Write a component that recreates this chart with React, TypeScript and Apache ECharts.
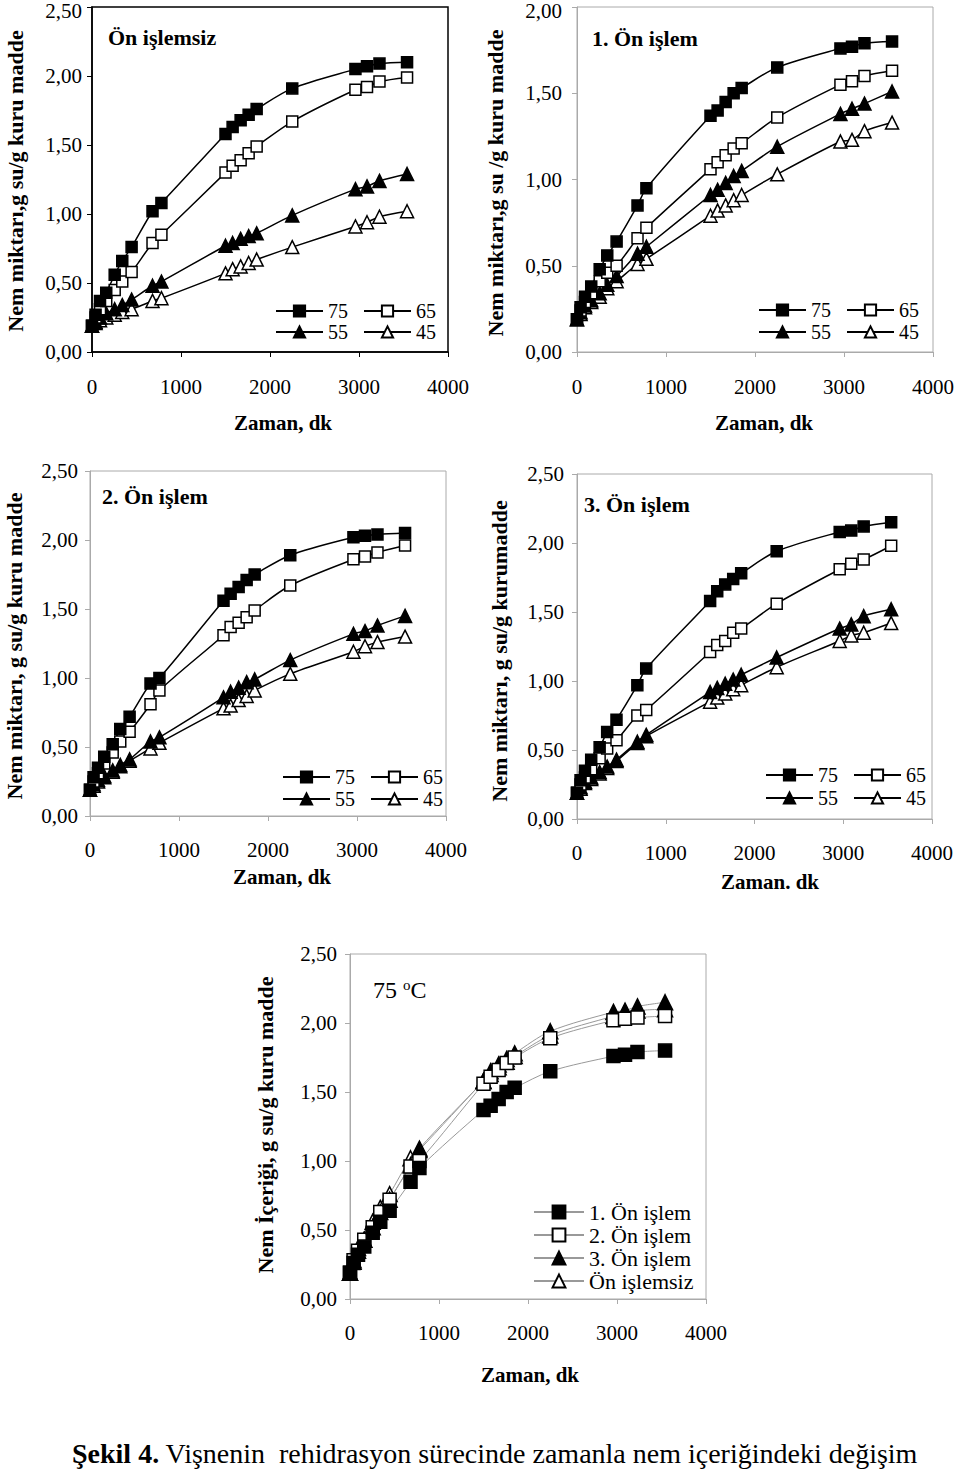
import React, { useEffect, useRef } from 'react';
import * as echarts from 'echarts';

// Time points (minutes)
const TIME_MIN = [0, 40, 90, 160, 255, 340, 445, 680, 780, 1500, 1580, 1670, 1760, 1850, 2250, 2960, 3090, 3230, 3540];
const X_MAX = 4000;

// Ön işlemsiz
const NONE_75 = [0.19, 0.27, 0.37, 0.43, 0.56, 0.66, 0.76, 1.02, 1.08, 1.58, 1.63, 1.68, 1.72, 1.76, 1.91, 2.05, 2.07, 2.09, 2.10];
const NONE_65 = [0.19, 0.25, 0.31, 0.37, 0.45, 0.51, 0.58, 0.79, 0.85, 1.30, 1.35, 1.39, 1.44, 1.49, 1.67, 1.90, 1.92, 1.96, 1.99];
const NONE_55 = [0.19, 0.22, 0.25, 0.28, 0.31, 0.34, 0.38, 0.48, 0.51, 0.77, 0.79, 0.82, 0.84, 0.86, 0.99, 1.18, 1.20, 1.24, 1.29];
const NONE_45 = [0.19, 0.21, 0.23, 0.25, 0.27, 0.29, 0.31, 0.37, 0.39, 0.57, 0.60, 0.62, 0.645, 0.67, 0.76, 0.91, 0.94, 0.98, 1.02];

// 1. Ön işlem
const ON1_75 = [0.19, 0.26, 0.32, 0.38, 0.48, 0.56, 0.64, 0.85, 0.95, 1.37, 1.40, 1.45, 1.50, 1.53, 1.65, 1.76, 1.77, 1.79, 1.80];
const ON1_65 = [0.19, 0.24, 0.29, 0.34, 0.41, 0.46, 0.50, 0.66, 0.72, 1.06, 1.10, 1.14, 1.18, 1.21, 1.36, 1.55, 1.57, 1.60, 1.63];
const ON1_55 = [0.19, 0.23, 0.27, 0.30, 0.34, 0.39, 0.44, 0.57, 0.61, 0.91, 0.94, 0.98, 1.02, 1.05, 1.19, 1.38, 1.41, 1.44, 1.51];
const ON1_45 = [0.19, 0.22, 0.26, 0.29, 0.32, 0.37, 0.41, 0.51, 0.54, 0.79, 0.82, 0.85, 0.88, 0.91, 1.03, 1.22, 1.23, 1.28, 1.33];

// 2. Ön işlem
const ON2_75 = [0.19, 0.28, 0.35, 0.43, 0.52, 0.63, 0.72, 0.96, 1.00, 1.56, 1.61, 1.66, 1.71, 1.75, 1.89, 2.02, 2.03, 2.04, 2.05];
const ON2_65 = [0.19, 0.25, 0.31, 0.38, 0.46, 0.54, 0.61, 0.81, 0.91, 1.31, 1.37, 1.40, 1.44, 1.49, 1.67, 1.86, 1.88, 1.91, 1.96];
const ON2_55 = [0.19, 0.23, 0.26, 0.29, 0.33, 0.37, 0.41, 0.54, 0.57, 0.86, 0.90, 0.93, 0.97, 0.99, 1.13, 1.32, 1.34, 1.38, 1.45];
const ON2_45 = [0.19, 0.22, 0.25, 0.28, 0.32, 0.36, 0.40, 0.49, 0.53, 0.78, 0.80, 0.84, 0.87, 0.91, 1.03, 1.19, 1.23, 1.26, 1.30];

// 3. Ön işlem
const ON3_75 = [0.19, 0.28, 0.35, 0.43, 0.52, 0.63, 0.72, 0.97, 1.09, 1.58, 1.65, 1.70, 1.74, 1.78, 1.94, 2.08, 2.09, 2.12, 2.15];
const ON3_65 = [0.19, 0.25, 0.30, 0.36, 0.44, 0.51, 0.57, 0.75, 0.79, 1.21, 1.26, 1.29, 1.35, 1.38, 1.56, 1.81, 1.85, 1.88, 1.98];
const ON3_55 = [0.19, 0.23, 0.27, 0.30, 0.34, 0.38, 0.43, 0.56, 0.61, 0.92, 0.95, 0.98, 1.01, 1.045, 1.17, 1.38, 1.41, 1.47, 1.52];
const ON3_45 = [0.19, 0.22, 0.26, 0.29, 0.33, 0.37, 0.42, 0.55, 0.60, 0.85, 0.88, 0.91, 0.94, 0.97, 1.10, 1.29, 1.33, 1.35, 1.42];

const TEMP_NAMES = ['75', '65', '55', '45'];
const BOTTOM_NAMES = ['1. Ön işlem', '2. Ön işlem', '3. Ön işlem', 'Ön işlemsiz'];

const FONT = 'Liberation Serif';

const MARKERS = [
  { symbol: 'rect', fill: '#000', size: 11 },
  { symbol: 'rect', fill: '#fff', size: 11 },
  { symbol: 'triangle', fill: '#000', size: 13 },
  { symbol: 'triangle', fill: '#fff', size: 13 },
];

const PANELS = [
  {
    grid: { left: 92, top: 7, width: 356, height: 345 }, yMax: 2.5, frame: '#000', frameW: 1.5,
    edgeTopLabel: true,
    title: 'Ön işlemsiz', titleX: 108, titleY: 37,
    yName: 'Nem miktarı,g su/g kuru madde', yNameX: 15, yNameY: 181,
    xName: 'Zaman, dk', xNameX: 283, xNameY: 423, xMargin: 27, yMargin: 10,
    legendX: 275, legendRows: [311, 332],
    data: [NONE_75, NONE_65, NONE_55, NONE_45],
  },
  {
    grid: { left: 577, top: 7, width: 356, height: 345 }, yMax: 2.0, frame: '#aaa', frameW: 1,
    edgeTopLabel: true,
    title: '1. Ön işlem', titleX: 592, titleY: 38,
    yName: 'Nem miktarı,g su /g kuru madde', yNameX: 495, yNameY: 183,
    xName: 'Zaman, dk', xNameX: 764, xNameY: 423, xMargin: 27, yMargin: 15,
    legendX: 758, legendRows: [310, 332],
    data: [ON1_75, ON1_65, ON1_55, ON1_45],
  },
  {
    grid: { left: 90, top: 471, width: 356, height: 345 }, yMax: 2.5, frame: '#aaa', frameW: 1,
    edgeTopLabel: false,
    title: '2. Ön işlem', titleX: 102, titleY: 496,
    yName: 'Nem miktarı, g su/g kuru madde', yNameX: 14, yNameY: 646,
    xName: 'Zaman, dk', xNameX: 282, xNameY: 877, xMargin: 26, yMargin: 12,
    legendX: 282, legendRows: [777, 799],
    data: [ON2_75, ON2_65, ON2_55, ON2_45],
  },
  {
    grid: { left: 577, top: 474, width: 355, height: 345 }, yMax: 2.5, frame: '#aaa', frameW: 1,
    edgeTopLabel: false,
    title: '3. Ön işlem', titleX: 584, titleY: 504,
    yName: 'Nem miktarı, g su/g kurumadde', yNameX: 499, yNameY: 651,
    xName: 'Zaman. dk', xNameX: 770, xNameY: 882, xMargin: 26, yMargin: 13,
    legendX: 765, legendRows: [775, 798],
    data: [ON3_75, ON3_65, ON3_55, ON3_45],
  },
];

const BOTTOM = {
  grid: { left: 350, top: 954, width: 356, height: 345 }, yMax: 2.5, frame: '#aaa', frameW: 1,
  edgeTopLabel: false,
  yName: 'Nem İçeriği, g su/g kuru madde', yNameX: 265, yNameY: 1125,
  xName: 'Zaman, dk', xNameX: 530, xNameY: 1375, xMargin: 26, yMargin: 13,
  data: [ON1_75, ON2_75, ON3_75, NONE_75],
};

const yFmt = (v: number) => v.toFixed(2).replace('.', ',');
const xFmt = (v: number) => String(v);

function axisPair(p: any, i: number) {
  const lineStyle = { color: p.frame, width: p.frameW };
  const xAxis = {
    type: 'value', gridIndex: i, min: 0, max: X_MAX, interval: 1000,
    axisLine: { show: true, onZero: false, lineStyle },
    axisTick: { show: true, length: 5, inside: false, lineStyle: { color: p.frame, width: 1 } },
    axisLabel: { margin: p.xMargin, fontSize: 21, lineHeight: 16, color: '#000', fontFamily: FONT, formatter: xFmt, showMinLabel: true, showMaxLabel: true },
    splitLine: { show: false },
  };
  const yAxis = {
    type: 'value', gridIndex: i, min: 0, max: p.yMax, interval: 0.5,
    axisLine: { show: true, onZero: false, lineStyle },
    axisTick: { show: true, length: 5, inside: false, lineStyle: { color: p.frame, width: 1 } },
    axisLabel: {
      margin: p.yMargin, fontSize: 21, lineHeight: 14, color: '#000', fontFamily: FONT,
      formatter: (v: number) => (p.edgeTopLabel && Math.abs(v - p.yMax) < 1e-9 ? '' : yFmt(v)),
      showMinLabel: true, showMaxLabel: true,
    },
    splitLine: { show: false },
  };
  return { xAxis, yAxis };
}

function buildOption() {
  const grids: any[] = [];
  const xAxes: any[] = [];
  const yAxes: any[] = [];
  const series: any[] = [];
  const legends: any[] = [];
  const graphics: any[] = [];

  const allPanels = [...PANELS, BOTTOM];
  allPanels.forEach((p: any, i) => {
    grids.push({ ...p.grid, show: true, borderColor: p.frame, borderWidth: p.frameW, backgroundColor: 'transparent', containLabel: false, outerBoundsMode: 'none' });
    const { xAxis, yAxis } = axisPair(p, i);
    xAxes.push(xAxis);
    yAxes.push(yAxis);
    if (p.edgeTopLabel) {
      // top tick label sits at the very top edge of the page: keep it inside
      graphics.push({
        type: 'text', x: p.grid.left - 5 - p.yMargin + 5, y: 0,
        style: { text: yFmt(p.yMax), font: `21px "${FONT}"`, fill: '#000', align: 'right', verticalAlign: 'top' },
      });
    }
    graphics.push({
      type: 'text', x: p.yNameX, y: p.yNameY, rotation: Math.PI / 2,
      style: { text: p.yName, font: `bold 22px "${FONT}"`, fill: '#000', align: 'center', verticalAlign: 'middle' },
    });
    graphics.push({
      type: 'text', x: p.xNameX, y: p.xNameY,
      style: { text: p.xName, font: `bold 21px "${FONT}"`, fill: '#000', align: 'center', verticalAlign: 'middle' },
    });
  });

  PANELS.forEach((p, i) => {
    // draw lower-temperature series first so 75 sits on top
    [3, 2, 1, 0].forEach((k) => {
      const m = MARKERS[k];
      series.push({
        type: 'line', name: TEMP_NAMES[k], xAxisIndex: i, yAxisIndex: i,
        data: TIME_MIN.map((t, j) => [t, p.data[k][j]]),
        smooth: 0.3, symbol: m.symbol, symbolSize: m.size, showAllSymbol: true,
        lineStyle: { color: '#000', width: 1.5 },
        itemStyle: { color: m.fill, borderColor: '#000', borderWidth: 1.5 },
        emphasis: { disabled: true }, silent: true,
      });
    });
    graphics.push({
      type: 'text', x: p.titleX, y: p.titleY,
      style: { text: p.title, font: `bold 22px "${FONT}"`, fill: '#000', align: 'left', verticalAlign: 'middle' },
    });
    [[TEMP_NAMES[0], TEMP_NAMES[1]], [TEMP_NAMES[2], TEMP_NAMES[3]]].forEach((row, r) => {
      legends.push({
        data: row, orient: 'horizontal', left: p.legendX, top: p.legendRows[r] - 10,
        padding: 0, itemGap: 15, itemWidth: 47, itemHeight: 14, selectedMode: false,
        textStyle: { fontSize: 20, lineHeight: 18, color: '#000', fontFamily: FONT },
      });
    });
  });

  const bi = PANELS.length;
  [3, 2, 1, 0].forEach((k) => {
    const m = MARKERS[k];
    series.push({
      type: 'line', name: BOTTOM_NAMES[k], xAxisIndex: bi, yAxisIndex: bi,
      data: TIME_MIN.map((t, j) => [t, BOTTOM.data[k][j]]),
      smooth: 0.3, symbol: m.symbol, symbolSize: m.size + 2, showAllSymbol: true,
      lineStyle: { color: '#999', width: 1 },
      itemStyle: { color: m.fill, borderColor: '#000', borderWidth: 1.5 },
      emphasis: { disabled: true }, silent: true,
    });
  });
  legends.push({
    data: BOTTOM_NAMES, orient: 'vertical', left: 533, top: 1201,
    padding: 0, itemGap: 1, itemWidth: 50, itemHeight: 16, selectedMode: false,
    textStyle: { fontSize: 22, lineHeight: 19, color: '#000', fontFamily: FONT },
  });

  graphics.push({
    type: 'text', x: 373, y: 990,
    style: {
      text: '{a|75 }{s|o}{a|C}', fill: '#000', align: 'left', verticalAlign: 'middle',
      rich: {
        a: { fontSize: 24, fontFamily: FONT, lineHeight: 26 },
        s: { fontSize: 15, fontFamily: FONT, lineHeight: 15, verticalAlign: 'top' },
      },
    },
  });

  graphics.push({
    type: 'text', x: 72, y: 1453,
    style: {
      text: '{b|Şekil 4.}{n| Vişnenin  rehidrasyon sürecinde zamanla nem içeriğindeki değişim}',
      fill: '#000', align: 'left', verticalAlign: 'middle',
      rich: {
        b: { fontSize: 28, fontWeight: 'bold', fontFamily: FONT },
        n: { fontSize: 28, fontFamily: FONT },
      },
    },
  });

  return {
    animation: false,
    backgroundColor: '#fff',
    textStyle: { fontFamily: FONT },
    grid: grids,
    xAxis: xAxes,
    yAxis: yAxes,
    legend: legends,
    series,
    graphic: graphics,
  };
}

export default function App() {
  const ref = useRef<HTMLDivElement>(null);
  useEffect(() => {
    const chart = echarts.init(ref.current!, null, { renderer: 'svg' });
    chart.setOption(buildOption() as any);
    return () => chart.dispose();
  }, []);
  return (
    <div
      ref={ref}
      style={{ position: 'absolute', left: 0, top: 0, width: 960, height: 1473, background: '#fff' }}
    />
  );
}
